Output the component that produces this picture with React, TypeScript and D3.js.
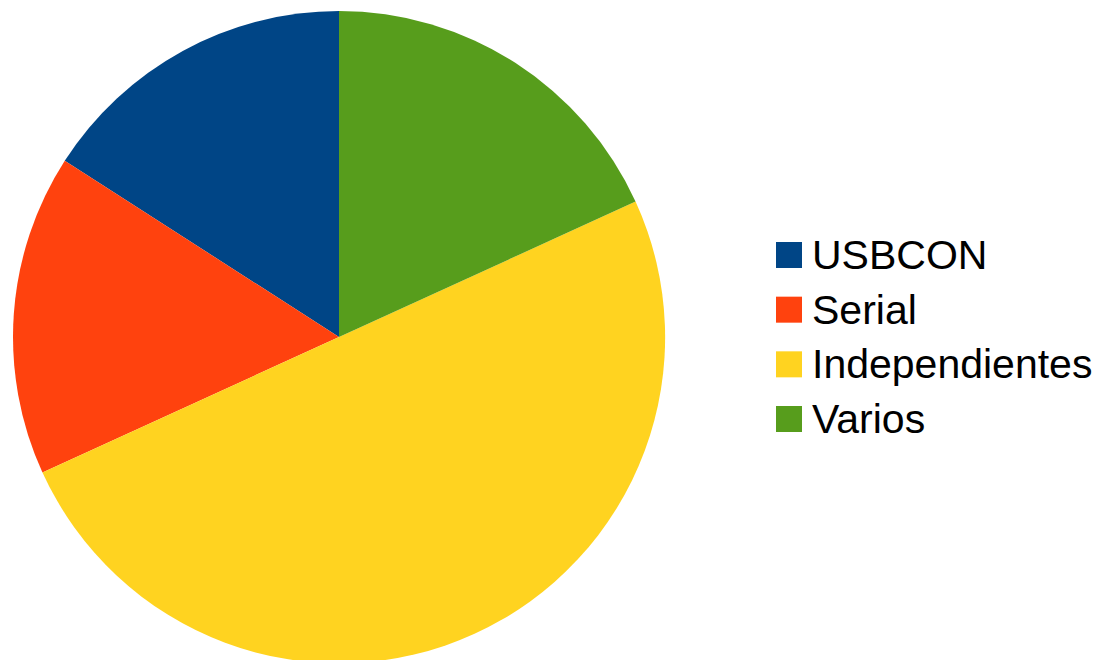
import React from "react";
import * as d3 from "d3";

const categories = ["USBCON", "Serial", "Independientes", "Varios"];
const values = [7, 7, 22, 8];
const colors = ["#004586", "#ff420e", "#ffd320", "#579d1c"];

const W = 1099;
const H = 660;
const cx = 339;
const cy = 337;
const R = 326;

export default function App() {
  const pie = d3
    .pie<number>()
    .sort(null)
    .startAngle(0)
    .endAngle(-2 * Math.PI);
  const arcs = pie(values);
  const arc = d3.arc<d3.PieArcDatum<number>>().innerRadius(0).outerRadius(R);
  const legendY = d3
    .scalePoint<string>()
    .domain(categories)
    .range([255, 419]);

  return (
    <svg
      width={W}
      height={H}
      style={{ position: "absolute", left: 0, top: 0, display: "block", background: "#fff" }}
    >
      <g transform={`translate(${cx},${cy})`}>
        {arcs.map((a, i) => (
          <path key={categories[i]} d={arc(a) || ""} fill={colors[i]} />
        ))}
      </g>
      <g fontFamily="'Liberation Sans', Arial, sans-serif" fontSize={41} fill="#000">
        {categories.map((c, i) => {
          const y = legendY(c) as number;
          return (
            <g key={c}>
              <rect x={776} y={y - 13} width={26} height={26} fill={colors[i]} />
              <text x={812} y={y + 14}>
                {c}
              </text>
            </g>
          );
        })}
      </g>
    </svg>
  );
}
